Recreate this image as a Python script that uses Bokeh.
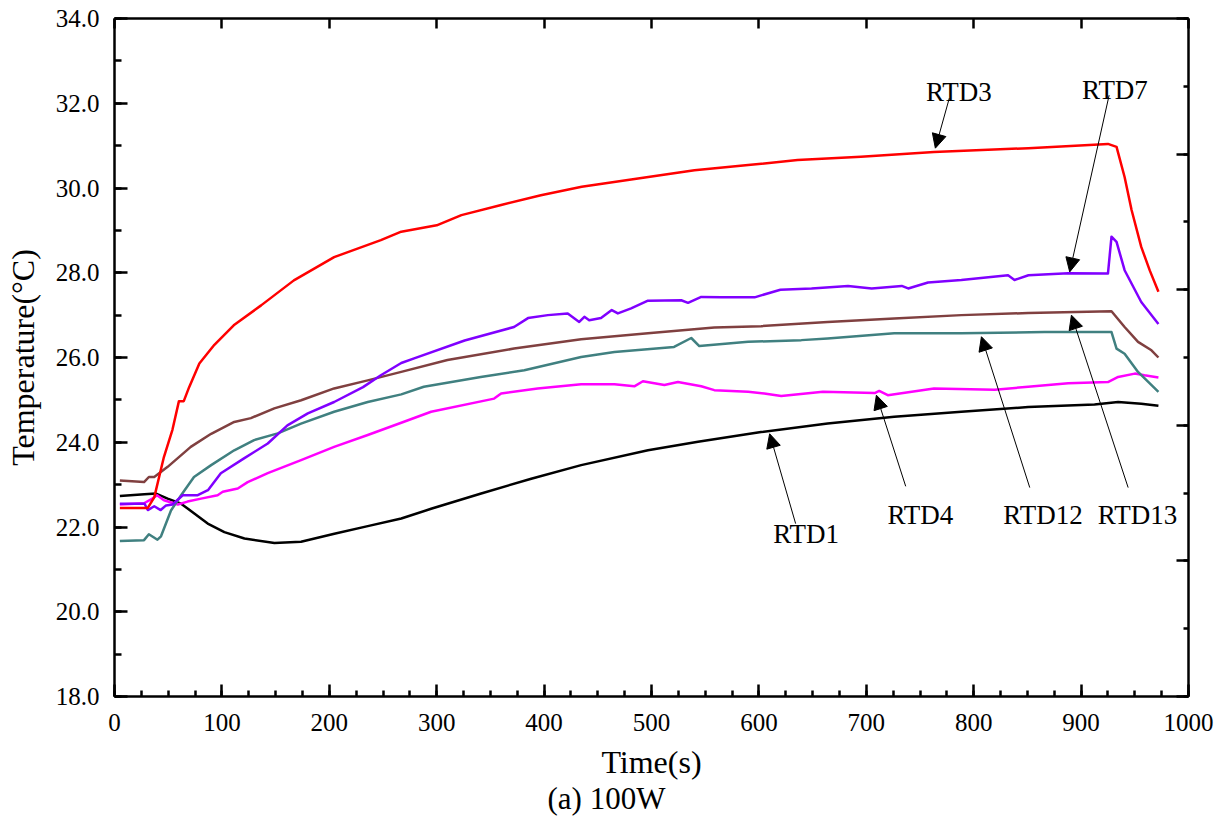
from bokeh.plotting import figure
from bokeh.models import (Range1d, LinearAxis, SingleIntervalTicker, PrintfTickFormatter,
                          CustomJSTickFormatter, Arrow, NormalHead, ColumnDataSource, Title)
from bokeh.core.properties import value
from bokeh.embed import file_html
from bokeh.resources import INLINE

# ---------------- data ----------------
rtd1_x = [5, 27.8, 38.7, 49.5, 62, 74.3, 86.8, 102.3, 121, 148.9, 173.7, 204.7, 235.8, 267,
          294.8, 341.4, 388, 434.5, 496.7, 543.3, 602, 664, 726, 788.5, 850.7, 912.5, 934.5, 956, 972]
rtd1_y = [22.73, 22.77, 22.79, 22.67, 22.55, 22.32, 22.08, 21.88, 21.73, 21.62, 21.65, 21.84, 22.02, 22.2,
          22.43, 22.79, 23.14, 23.46, 23.81, 24.01, 24.24, 24.44, 24.6, 24.72, 24.83, 24.89, 24.95, 24.91, 24.86]

rtd3_x = [5, 31, 37, 46, 54, 60, 64.5, 69.5, 79, 93, 111, 136.5, 167, 204.5, 248, 267, 300, 323, 360,
          397, 435, 497, 540, 590, 636, 695, 763, 851, 925, 933, 940.5, 947, 956, 964, 972]
rtd3_y = [22.45, 22.45, 22.7, 23.65, 24.3, 24.97, 24.97, 25.3, 25.86, 26.3, 26.76, 27.23, 27.82, 28.37,
          28.77, 28.97, 29.12, 29.36, 29.6, 29.83, 30.03, 30.26, 30.42, 30.54, 30.66, 30.74, 30.85, 30.94,
          31.04, 30.97, 30.26, 29.48, 28.61, 28.05, 27.55]

rtd4_x = [5, 27.5, 34, 39.6, 46, 59, 68, 80.6, 96, 100.8, 114.8, 124, 142.7, 173.7, 204.5, 235.8, 267,
          294.8, 353.5, 360, 394, 434.5, 465.5, 484, 492, 512, 524.6, 546.3, 558.5, 590, 605, 620.8,
          659.6, 707.8, 712, 720, 763, 819.6, 850.7, 888, 925, 934.5, 950, 959, 972]
rtd4_y = [22.53, 22.56, 22.65, 22.75, 22.63, 22.53, 22.6, 22.67, 22.75, 22.83, 22.91, 23.06, 23.27, 23.58,
          23.89, 24.17, 24.46, 24.72, 25.03, 25.15, 25.27, 25.37, 25.37, 25.32, 25.44, 25.35, 25.42, 25.32,
          25.23, 25.19, 25.15, 25.09, 25.19, 25.16, 25.21, 25.11, 25.27, 25.24, 25.31, 25.39, 25.42, 25.54,
          25.62, 25.58, 25.53]

rtd7_x = [5, 28, 31, 37, 43, 48, 54, 63.5, 77.5, 87, 99, 120.6, 142.7, 161, 180, 204.5, 231.4, 248, 267,
          279, 326, 372, 385, 403.5, 422, 432.7, 437.5, 442, 453, 463, 468.7, 481, 496.7, 527.7, 534,
          546.3, 565, 596, 620, 649, 683, 705, 733, 739, 757.5, 788.5, 832, 838, 851, 888, 925, 928.3,
          933, 940.5, 956, 972]
rtd7_y = [22.55, 22.55, 22.4, 22.49, 22.4, 22.51, 22.53, 22.75, 22.75, 22.87, 23.27, 23.62, 23.97, 24.4,
          24.68, 24.95, 25.3, 25.58, 25.87, 25.98, 26.4, 26.72, 26.93, 27.0, 27.04, 26.84, 26.96, 26.88,
          26.93, 27.12, 27.04, 27.16, 27.34, 27.35, 27.29, 27.43, 27.42, 27.42, 27.6, 27.63, 27.69, 27.63,
          27.69, 27.63, 27.77, 27.83, 27.94, 27.83, 27.94, 27.99, 27.98, 28.85, 28.73, 28.06, 27.31, 26.79]

rtd12_x = [5, 27.5, 32, 40, 43.3, 52.6, 62, 74, 90, 111.5, 130, 152, 173.7, 204.5, 235.8, 267, 288, 341,
           381.6, 434.5, 465.5, 521, 537, 544.5, 590, 639.5, 664, 726, 788.5, 866, 928.3, 933, 940.5, 953, 972]
rtd12_y = [21.67, 21.69, 21.83, 21.7, 21.78, 22.39, 22.75, 23.18, 23.46, 23.81, 24.05, 24.21, 24.44, 24.72,
           24.95, 25.13, 25.31, 25.54, 25.7, 26.01, 26.13, 26.25, 26.46, 26.27, 26.37, 26.41, 26.45, 26.57,
           26.57, 26.6, 26.6, 26.21, 26.09, 25.66, 25.19]

rtd13_x = [5, 27.5, 32, 37, 49.5, 71, 90, 111.5, 127, 148.8, 173.8, 204.5, 235.8, 267, 310, 372, 434.5,
           496.7, 558.5, 602, 664, 726, 788.5, 850.7, 928.3, 940.5, 953, 965.5, 972]
rtd13_y = [23.1, 23.06, 23.18, 23.18, 23.42, 23.89, 24.2, 24.48, 24.57, 24.8, 24.99, 25.27, 25.46, 25.66,
           25.94, 26.21, 26.43, 26.57, 26.71, 26.74, 26.84, 26.92, 27.0, 27.05, 27.09, 26.72, 26.37, 26.17, 26.0]

series_names = ["RTD1", "RTD4", "RTD12", "RTD13", "RTD7", "RTD3"]
series_colors = ["#000000", "#ff00ff", "#408080", "#804040", "#8000ff", "#ff0000"]

# annotation labels (text baseline positions) and arrows, in data coordinates
label_text = ["RTD3", "RTD7", "RTD1", "RTD4", "RTD12", "RTD13"]
label_x = [786.2, 931.5, 644.0, 750.3, 864.5, 952.5]
label_y = [32.27, 32.31, 21.84, 22.28, 22.28, 22.28]
arrow_x0 = [777.3, 926.1, 634.2, 736.7, 852.2, 943.8]
arrow_y0 = [32.12, 32.19, 22.08, 22.96, 22.93, 22.93]
arrow_x1 = [764.3, 889.4, 610.0, 709.4, 807.2, 891.0]
arrow_y1 = [30.94, 28.02, 24.20, 25.11, 26.49, 27.00]

x_tick_step = 100
y_tick_step = 2

FONT = "Liberation Serif"

# ---------------- figure ----------------
p = figure(width=1218, height=819, output_backend="svg", toolbar_location=None,
           x_range=Range1d(0, 1000), y_range=Range1d(18, 34),
           x_axis_location=None, y_axis_location=None,
           min_border_left=114, min_border_right=30, min_border_top=18, min_border_bottom=123,
           background_fill_color="white", border_fill_color="white")
p.outline_line_color = None
p.xgrid.grid_line_color = None
p.ygrid.grid_line_color = None
p.extra_y_ranges = {"right": Range1d(0, 10)}

xs = [rtd1_x, rtd4_x, rtd12_x, rtd13_x, rtd7_x, rtd3_x]
ys = [rtd1_y, rtd4_y, rtd12_y, rtd13_y, rtd7_y, rtd3_y]
for sx, sy, c, n in zip(xs, ys, series_colors, series_names):
    p.line(sx, sy, line_color=c, line_width=2.5, line_join="round")


def style(ax, maj_in, min_in):
    ax.axis_line_width = 2.5
    ax.axis_line_color = "black"
    ax.major_tick_in = maj_in
    ax.major_tick_out = 0
    ax.minor_tick_in = min_in
    ax.minor_tick_out = 0
    ax.major_tick_line_width = 2.5
    ax.minor_tick_line_width = 2.5
    ax.major_tick_line_color = "black"
    ax.minor_tick_line_color = "black"
    ax.major_label_text_font = FONT
    ax.major_label_text_font_size = "25px"
    ax.major_label_text_color = "black"
    ax.axis_label_text_font = FONT
    ax.axis_label_text_font_size = "32px"
    ax.axis_label_text_font_style = "normal"
    ax.axis_label_text_color = "black"


blank = CustomJSTickFormatter(code="return '';")

bottom = LinearAxis(ticker=SingleIntervalTicker(interval=x_tick_step, num_minor_ticks=4),
                    axis_label="Time(s)")
style(bottom, 12, 6)
bottom.major_label_standoff = 17
bottom.axis_label_standoff = 10
p.add_layout(bottom, "below")

left = LinearAxis(ticker=SingleIntervalTicker(interval=y_tick_step, num_minor_ticks=2),
                  formatter=PrintfTickFormatter(format="%.1f"), axis_label="Temperature(°C)")
style(left, 13, 7)
left.major_label_standoff = 15
left.axis_label_standoff = 12
p.add_layout(left, "left")

top = LinearAxis(ticker=SingleIntervalTicker(interval=x_tick_step, num_minor_ticks=4), formatter=blank)
style(top, 10, 0)
top.minor_tick_line_color = None
top.major_label_standoff = 0
p.add_layout(top, "above")

right = LinearAxis(y_range_name="right", ticker=SingleIntervalTicker(interval=2, num_minor_ticks=2),
                   formatter=blank)
style(right, 12, 5)
right.major_label_standoff = 0
p.add_layout(right, "right")

# annotations
p.text(x=label_x, y=label_y, text=label_text, text_font=value(FONT), text_font_size=value("27px"),
       text_align="center", text_baseline="alphabetic", text_color="black")
asrc = ColumnDataSource(dict(x0=arrow_x0, y0=arrow_y0, x1=arrow_x1, y1=arrow_y1))
p.add_layout(Arrow(end=NormalHead(size=14, fill_color="black", line_color="black", line_width=1),
                   x_start="x0", y_start="y0", x_end="x1", y_end="y1", source=asrc,
                   line_color="black", line_width=1))

p.add_layout(Title(text="(a)  100W", align="left", offset=433, text_font=FONT,
                   text_font_size="31px", text_font_style="normal", text_color="black",
                   standoff=-7), "below")

open("out.html", "w").write(file_html(p, INLINE))
